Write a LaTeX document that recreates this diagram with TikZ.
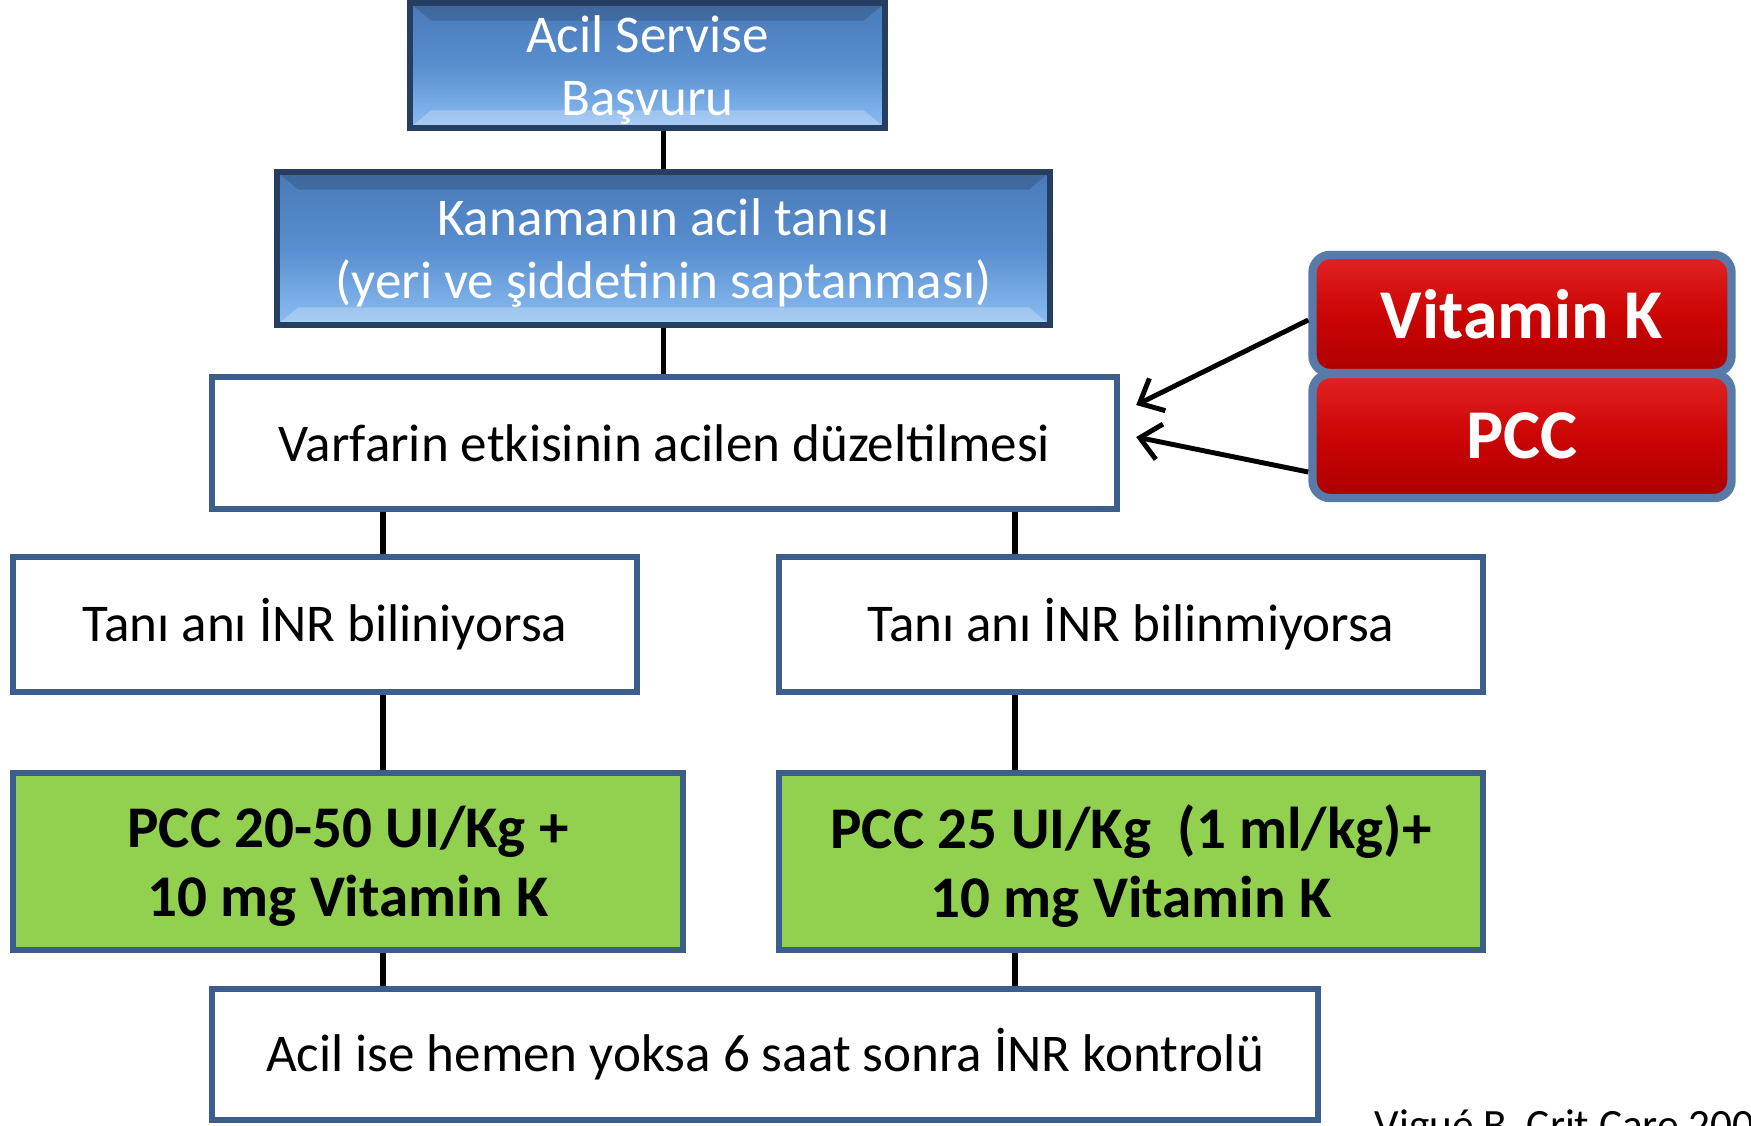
\documentclass[tikz,border=0pt]{standalone}
\usepackage{fontspec}
\setmainfont{Carlito}
\usetikzlibrary{arrows.meta,calc}

\definecolor{boxline}{RGB}{59,94,140}
\definecolor{blueedge}{RGB}{38,62,98}
\definecolor{bluetop}{RGB}{74,122,184}
\definecolor{bluemid}{RGB}{88,142,207}
\definecolor{bluebot}{RGB}{140,190,242}
\definecolor{redtop}{RGB}{226,36,36}
\definecolor{redmid}{RGB}{204,4,4}
\definecolor{redbot}{RGB}{172,0,0}
\definecolor{rededge}{RGB}{88,122,168}
\definecolor{pccgreen}{RGB}{146,208,80}

\tikzset{
  bluebox/.style={draw=blueedge, line width=1.6pt, top color=bluetop, bottom color=bluebot, middle color=bluemid,
    text=white, inner sep=0pt, align=center, text depth=0pt, font=\fontsize{15.1}{17.8}\selectfont,
    path picture={
      \fill[white, opacity=0.25] (path picture bounding box.south west) -- (path picture bounding box.south east)
        -- ([shift={(-6pt,5pt)}]path picture bounding box.south east) -- ([shift={(6pt,5pt)}]path picture bounding box.south west) -- cycle;
      \fill[black, opacity=0.15] (path picture bounding box.north west) -- (path picture bounding box.north east)
        -- ([shift={(-6pt,-5pt)}]path picture bounding box.north east) -- ([shift={(6pt,-5pt)}]path picture bounding box.north west) -- cycle;
    }},
  whitebox/.style={draw=boxline, line width=1.8pt, fill=white, inner sep=0pt, align=center, font=\fontsize{15.1}{18}\selectfont},
  greenbox/.style={whitebox, fill=pccgreen, font=\bfseries\fontsize{16.8}{19.6}\selectfont, text depth=0pt},
  redbox/.style={draw=rededge, line width=2.4pt, rounded corners=5pt, top color=redtop, bottom color=redbot, middle color=redmid,
    text=white, inner sep=0pt, font=\bfseries\fontsize{19.9}{22}\selectfont},
  link/.style={line width=1.7pt},
  pointer/.style={line width=1.4pt, -{Straight Barb[length=0.2cm, width=0.36cm]}}
}

\begin{document}
\begin{tikzpicture}[y=-1cm]

	\useasboundingbox (0,0) rectangle (17.51,11.25);

	% Top of the chart
	\node[bluebox, minimum width=4.75cm, minimum height=1.25cm] (acil) at (6.475,0.655) {Acil Servise\\Başvuru};
	\node[bluebox, minimum width=7.73cm, minimum height=1.53cm] (kanama) at (6.635,2.485) {Kanamanın acil tanısı\\(yeri ve şiddetinin saptanması)};
	\node[whitebox, minimum width=9.05cm, minimum height=1.32cm] (varf) at (6.645,4.43) {Varfarin etkisinin acilen düzeltilmesi};

	% Drugs
	\node[redbox, minimum width=4.19cm, minimum height=1.18cm] (vitk) at (15.22,3.14) {Vitamin K};
	\node[redbox, minimum width=4.19cm, minimum height=1.24cm] (pcc) at (15.22,4.36) {PCC};

	% Two branches
	\node[whitebox, minimum width=6.24cm, minimum height=1.35cm] (known) at (3.25,6.245) {Tanı anı İNR biliniyorsa};
	\node[whitebox, minimum width=7.04cm, minimum height=1.35cm] (unknown) at (11.31,6.245) {Tanı anı İNR bilinmiyorsa};

	\node[greenbox, minimum width=6.70cm, minimum height=1.77cm] (doseL) at (3.48,8.615) {PCC 20-50 UI/Kg +\\10 mg Vitamin K};
	\node[greenbox, minimum width=7.04cm, minimum height=1.77cm] (doseR) at (11.31,8.615) {PCC 25 UI/Kg\ \ (1 ml/kg)+\\10 mg Vitamin K};

	% Control
	\node[whitebox, minimum width=11.06cm, minimum height=1.31cm] (kontrol) at (7.65,10.545) {Acil ise hemen yoksa 6 saat sonra İNR kontrolü};

	\node[anchor=north west, inner sep=0pt, font=\fontsize{12.3}{14}\selectfont] (cite) at (13.74,11.09) {Vigué B, Crit Care 2009};

	% Lines
	\coordinate (colL) at (3.83,0);
	\coordinate (colR) at (10.15,0);

	\draw[link] (acil.south -| kanama.north) -- (kanama.north);
	\draw[link] (kanama.south) -- (kanama.south |- varf.north);
	\draw[link] (varf.south -| colL) -- (known.north -| colL);
	\draw[link] (varf.south -| colR) -- (unknown.north -| colR);
	\draw[link] (known.south -| colL) -- (doseL.north -| colL);
	\draw[link] (unknown.south -| colR) -- (doseR.north -| colR);
	\draw[link] (doseL.south -| colL) -- (kontrol.north -| colL);
	\draw[link] (doseR.south -| colR) -- (kontrol.north -| colR);

	% Arrows
	\draw[pointer] ($(vitk.west)+(0,0.06)$) -- ($(varf.east)+(0.16,-0.38)$);
	\draw[pointer] ($(pcc.west)+(0,0.36)$) -- ($(varf.east)+(0.16,-0.06)$);

\end{tikzpicture}
\end{document}
